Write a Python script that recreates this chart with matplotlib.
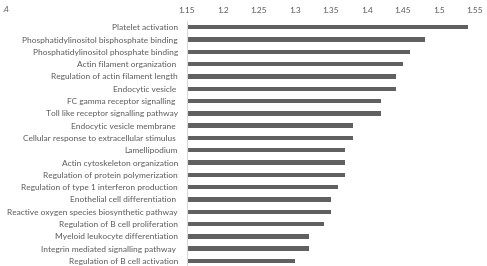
import numpy as np
import matplotlib
matplotlib.use("Agg")
import matplotlib.pyplot as plt

# GO terms, top to bottom as in the chart
terms = [
    "Platelet activation",
    "Phosphatidylinositol bisphosphate binding",
    "Phosphatidylinositol phosphate binding",
    "Actin filament organization ",
    "Regulation of actin filament length",
    "Endocytic vesicle ",
    "FC gamma receptor signalling ",
    "Toll like receptor signalling pathway",
    "Endocytic vesicle membrane ",
    "Cellular response to extracellular stimulus ",
    "Lamellipodium",
    "Actin cytoskeleton organization",
    "Regulation of protein polymerization",
    "Regulation of type 1 interferon production",
    "Enothelial cell differentiation ",
    "Reactive oxygen species biosynthetic pathway",
    "Regulation of B cell proliferation",
    "Myeloid leukocyte differentiation",
    "Integrin mediated signalling pathway ",
    "Regulation of B cell activation",
]
scores = [1.54, 1.48, 1.46, 1.45, 1.44, 1.44, 1.42, 1.42, 1.38, 1.38,
          1.37, 1.37, 1.37, 1.36, 1.35, 1.35, 1.34, 1.32, 1.32, 1.30]
xticks = [1.15, 1.2, 1.25, 1.3, 1.35, 1.4, 1.45, 1.5, 1.55]
xticklabels = ["1.15", "1.2", "1.25", "1.3", "1.35", "1.4", "1.45", "1.5", "1.55"]

base = 1.15
txt = "#595959"

plt.rcParams["font.family"] = ["Lato", "DejaVu Sans"]

fig = plt.figure(figsize=(4.87, 2.66), dpi=100)
ax = fig.add_axes([187 / 487, 0, 288 / 487, 245 / 266])

y = np.arange(len(terms))
ax.barh(y, np.array(scores) - base, left=base, height=0.36, color="#606060")

ax.set_xlim(1.15, 1.55)
ax.set_ylim(19.41, -0.51)
ax.xaxis.tick_top()
ax.set_xticks(xticks)
ax.set_xticklabels(xticklabels)
ax.set_yticks(y)
ax.set_yticklabels(terms)
ax.tick_params(axis="x", length=0, pad=5, labelsize=6, colors=txt)
ax.tick_params(axis="y", length=0, pad=6.5, labelsize=6, colors=txt)

for s in ["top", "right", "bottom"]:
    ax.spines[s].set_visible(False)
ax.spines["left"].set_color("#d9d9d9")
ax.spines["left"].set_linewidth(0.8)

# leftover of a cropped label in the original
fig.text(3 / 487, 1 - 10 / 266, ".4", fontsize=6, color=txt, va="center")

fig.savefig("out.png", dpi=100)
